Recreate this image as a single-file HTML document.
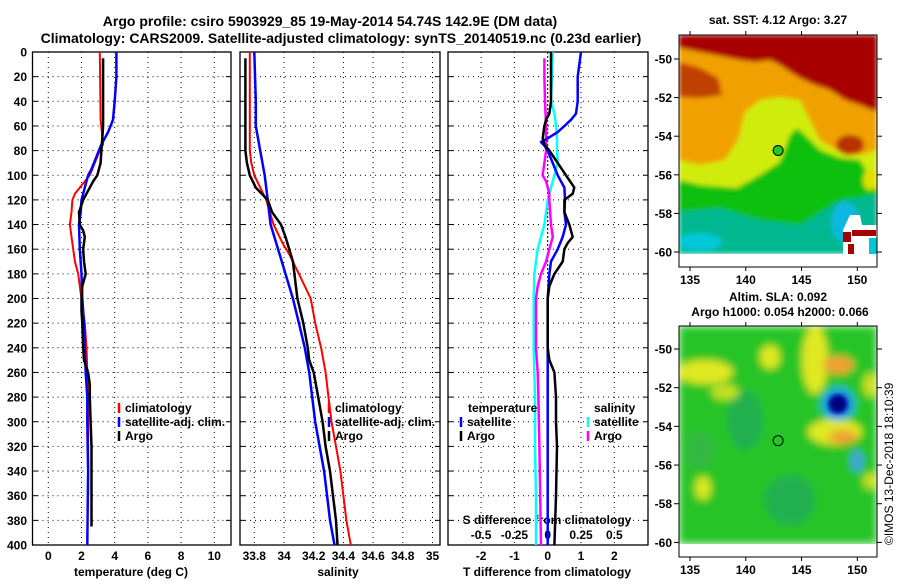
<!DOCTYPE html>
<html><head><meta charset="utf-8"><style>
body{margin:0;background:#fff}
svg text{font-family:"Liberation Sans",Arial,sans-serif;font-weight:bold;fill:#000}
</style></head><body>
<svg id="c" width="900" height="580" viewBox="0 0 900 580" xmlns="http://www.w3.org/2000/svg">
<defs>
<filter id="bl" x="-10%" y="-10%" width="120%" height="120%"><feGaussianBlur stdDeviation="2.5"/></filter>
<filter id="bl2" x="-20%" y="-20%" width="140%" height="140%"><feGaussianBlur stdDeviation="4"/></filter>
<clipPath id="cp1"><rect x="679" y="35" width="198" height="219"/></clipPath>
<clipPath id="cp2"><rect x="679" y="326" width="198" height="218"/></clipPath>
</defs>
<text x="330" y="26" font-size="14" text-anchor="middle">Argo profile: csiro 5903929_85 19-May-2014 54.74S 142.9E (DM data)</text>
<text x="341" y="43" font-size="14" text-anchor="middle">Climatology: CARS2009. Satellite-adjusted climatology: synTS_20140519.nc (0.23d earlier)</text>
<text x="778" y="24" font-size="12" text-anchor="middle">sat. SST: 4.12 Argo: 3.27</text>
<text x="778" y="301" font-size="12" text-anchor="middle">Altim. SLA: 0.092</text>
<text x="780" y="316" font-size="12" text-anchor="middle">Argo h1000: 0.054 h2000: 0.066</text>
<text transform="translate(893,545) rotate(-90)" font-size="12" style="font-weight:normal">©IMOS 13-Dec-2018 18:10:39</text>

<g clip-path="url(#cp1)">
<g filter="url(#bl)">
<rect x="679" y="35" width="198" height="219" fill="#10c010"/>
<polygon fill="#d0ec10" points="679,35 877,35 877,190 860,160 840,158 820,150 805,135 797,128 790,135 780,162 760,175 737,188 700,185 679,180"/>
<polygon fill="#f0a000" points="679,35 877,35 877,150 860,155 840,152 820,140 810,120 800,100 780,97 760,100 745,112 738,140 725,160 700,165 679,160"/>
<polygon fill="#a80000" points="679,35 877,35 877,112 860,105 845,100 830,90 815,85 800,78 790,72 780,65 770,60 755,62 740,60 730,58 715,55 700,52 690,50 679,48"/>
<polygon fill="#c04000" points="679,62 700,68 718,78 722,95 700,98 679,97"/>
<ellipse cx="850" cy="145" rx="14" ry="10" fill="#b83000"/>
<ellipse cx="870" cy="180" rx="7" ry="10" fill="#e0e000"/>
<polygon fill="#00b890" points="679,212 720,208 760,220 800,225 840,200 877,195 877,254 679,254"/>
<ellipse cx="700" cy="242" rx="22" ry="9" fill="#00c8d8"/>
<ellipse cx="845" cy="222" rx="14" ry="20" fill="#10b8e0"/>
</g>
<polygon fill="#fff" points="850,215 860,215 862,225 877,225 877,254 843,254 843,230"/>
<rect x="843" y="232" width="8" height="10" fill="#a80000"/>
<rect x="848" y="244" width="6" height="10" fill="#a80000"/>
<rect x="852" y="230" width="24" height="6" fill="#a80000"/>
<rect x="869" y="238" width="8" height="16" fill="#00c8d8"/>
</g>
<g clip-path="url(#cp2)">
<g filter="url(#bl2)">
<rect x="679" y="326" width="198" height="218" fill="#28c428"/>
<ellipse cx="745" cy="420" rx="18" ry="30" fill="#20b050"/>
<ellipse cx="790" cy="500" rx="25" ry="25" fill="#20b050"/>
<ellipse cx="700" cy="450" rx="15" ry="20" fill="#30b840"/>
<ellipse cx="705" cy="372" rx="28" ry="12" fill="#e0e820"/>
<ellipse cx="725" cy="392" rx="14" ry="8" fill="#c0e020"/>
<ellipse cx="770" cy="357" rx="10" ry="12" fill="#e0e820"/>
<ellipse cx="815" cy="360" rx="13" ry="34" fill="#e0e820"/>
<ellipse cx="838" cy="365" rx="16" ry="9" fill="#f0a030"/>
<ellipse cx="835" cy="432" rx="27" ry="13" fill="#e0e820"/>
<ellipse cx="843" cy="437" rx="14" ry="7" fill="#f0a030"/>
<ellipse cx="703" cy="488" rx="8" ry="12" fill="#d8e820"/>
<ellipse cx="870" cy="385" rx="7" ry="12" fill="#c8e020"/>
<ellipse cx="870" cy="481" rx="7" ry="8" fill="#c8e020"/>
<ellipse cx="857" cy="461" rx="6" ry="11" fill="#40a0e0"/>
<circle cx="838" cy="404" r="17" fill="#20c0e0"/>
<circle cx="838" cy="404" r="13" fill="#1060e0"/>
</g>
<circle cx="838" cy="404" r="9" fill="#000080" filter="url(#bl)"/>
</g>
<g id="plots"></g>
</svg>
<script>
// ---------- data ----------
const tDepthClim=[0,55,75,80,90,100,105,110,115,120,130,140,150,160,170,180,190,200,220,240,260,280,300,340,360];
const tClim=[3.1,3.15,3.3,3.1,2.8,2.5,2.2,1.9,1.6,1.45,1.4,1.3,1.4,1.5,1.6,1.8,1.9,2.0,2.2,2.3,2.35,2.4,2.4,2.4,2.4];
const tDepthArgo=[5,20,60,80,90,100,105,110,115,120,130,140,145,150,160,170,180,190,200,210,220,240,250,260,270,280,300,320,340,360,385];
const tArgo=[3.3,3.3,3.3,3.2,3.15,2.95,2.7,2.5,2.3,2.1,1.85,1.9,2.1,2.2,2.1,2.15,2.25,2.05,2.0,2.0,2.05,2.1,2.15,2.4,2.5,2.5,2.55,2.6,2.6,2.6,2.6];
const tDepthSat=[0,20,40,55,65,75,85,95,100,110,120,130,140,160,180,200,220,240,260,280,300,340,400];
const tSat=[4.1,4.1,4.0,3.9,3.6,3.2,2.9,2.6,2.4,2.2,2.0,1.95,1.85,1.9,2.0,2.05,2.15,2.2,2.25,2.35,2.35,2.4,2.35];
const sDepthClim=[0,80,90,100,110,120,140,155,165,180,200,220,240,260,280,300,320,340,360,380,400];
const sClim=[33.77,33.77,33.78,33.8,33.84,33.88,33.93,33.99,34.04,34.1,34.18,34.21,34.25,34.28,34.3,34.32,34.35,34.38,34.4,34.42,34.45];
const sDepthArgo=[5,80,90,100,110,115,120,130,140,150,170,180,200,220,240,250,260,280,300,320,340,360,380,400];
const sArgo=[33.74,33.74,33.75,33.77,33.81,33.85,33.89,33.92,33.98,34.01,34.06,34.07,34.09,34.13,34.16,34.17,34.2,34.23,34.26,34.28,34.31,34.33,34.35,34.36];
const sDepthSat=[0,40,60,80,100,110,120,140,160,180,200,220,240,260,280,300,320,340,360,380,400];
const sSat=[33.8,33.81,33.81,33.84,33.87,33.88,33.89,33.91,33.96,34.01,34.06,34.1,34.14,34.17,34.19,34.21,34.24,34.27,34.29,34.31,34.34];
const dtDepthSat=[0,20,40,50,55,60,65,70,73,76,80,90,100,110,120,130,140,150,160,170,180,200,220,260,400];
const dtSat=[1.0,0.9,0.9,0.85,0.7,0.5,0.3,0.0,-0.2,-0.1,0.0,0.15,0.3,0.5,0.52,0.5,0.55,0.45,0.3,0.1,0.05,0,0,0,0];
const dtDepthArgo=[0,20,40,50,55,60,70,75,80,90,100,110,115,120,130,140,150,155,160,170,180,190,200,220,240,250,260,280,300,320,360,400];
const dtArgo=[0.1,0.1,0.1,0.05,-0.05,-0.1,-0.15,-0.1,0.05,0.3,0.55,0.8,0.75,0.5,0.5,0.65,0.75,0.6,0.5,0.45,0.2,0.05,0,0,0,0.05,0.2,0.25,0.25,0.28,0.25,0.2];
const dsDepthSat=[0,40,50,60,70,80,90,100,110,120,130,140,150,160,180,200,240,280,320,360,400];
const dsSat=[0.038,0.025,0.05,0.062,0.07,0.07,0.075,0.05,0.025,0,-0.012,-0.025,-0.05,-0.075,-0.1,-0.105,-0.105,-0.095,-0.095,-0.088,-0.088];
const dsDepthArgo=[5,20,40,60,80,90,100,105,110,115,120,140,150,160,170,180,190,200,240,260,280,320,400];
const dsArgo=[-0.025,-0.025,-0.02,-0.012,-0.012,-0.025,-0.038,-0.012,0,0.012,0.012,0.025,0.038,0.012,-0.012,-0.05,-0.075,-0.088,-0.088,-0.075,-0.07,-0.062,-0.05];
const depthTicks=[0,20,40,60,80,100,120,140,160,180,200,220,240,260,280,300,320,340,360,380,400];
const tempTicks=[0,2,4,6,8,10];
const salTicks=[33.8,34,34.2,34.4,34.6,34.8,35];
const salTickLabels=["33.8","34","34.2","34.4","34.6","34.8","35"];
const dtTicks=[-2,-1,0,1,2];
const dsTicks=[-0.5,-0.25,0,0.25,0.5];
const latTicks=[-50,-52,-54,-56,-58,-60];
const lonTicks=[135,140,145,150];
const argoLon=142.9, argoLat=-54.74;
// ---------- scales ----------
const yD=d=>52+d*493/400;
const xT=t=>48.3+t*16.6;
const xS=s=>284+(s-34)*148.5;
const xDT=t=>547.7+t*33.3;
const xDS=s=>547.7+s*4*33.3;
const xLon=l=>690+(l-135)*11.153;
const yLat1=l=>59+(-50-l)*19.3;
const yLat2=l=>349+(-50-l)*19.34;
const NS='http://www.w3.org/2000/svg';
const G=document.getElementById('plots');
function mk(tag,at,parent){const e=document.createElementNS(NS,tag);for(const k in at)e.setAttribute(k,at[k]);(parent||G).appendChild(e);return e;}
function txt(x,y,s,size,anchor,parent){const e=mk('text',{x:x,y:y,'font-size':size,'text-anchor':anchor},parent);e.textContent=s;return e;}
function series(xs,ds,xf,col,w,name){
  const pts=xs.map((v,i)=>xf(v).toFixed(1)+','+yD(ds[i]).toFixed(1)).join(' ');
  const e=mk('polyline',{points:pts,fill:'none',stroke:col,'stroke-width':w,'stroke-linejoin':'round'});
  
  
}
function panel(x0,x1,name){
  const g=mk('g',{});
  
  
  depthTicks.forEach(d=>{ if(d>0&&d<400) mk('line',{x1:x0,x2:x1,y1:yD(d),y2:yD(d),stroke:'#000','stroke-width':1,'stroke-dasharray':'1,4'},g);
    mk('line',{x1:x0,x2:x0+5,y1:yD(d),y2:yD(d),stroke:'#000'},g);mk('line',{x1:x1-5,x2:x1,y1:yD(d),y2:yD(d),stroke:'#000'},g);});
  return g;
}
function frame(x0,x1,g){mk('rect',{x:x0,y:52,width:x1-x0,height:493,fill:'none',stroke:'#000','stroke-width':1.3},g);}
const g1=panel(32.5,231,'temperature-panel');
tempTicks.forEach(t=>{mk('line',{x1:xT(t),x2:xT(t),y1:52,y2:545,stroke:'#000','stroke-dasharray':'1,4'},g1);txt(xT(t),560,String(t),12,'middle',g1);});
depthTicks.forEach(d=>txt(27,yD(d)+4.5,String(d),12,'end',g1));
txt(131,576,'temperature (deg C)',12,'middle',g1);
const g2=panel(240,440,'salinity-panel');
salTicks.forEach((s,i)=>{mk('line',{x1:xS(s),x2:xS(s),y1:52,y2:545,stroke:'#000','stroke-dasharray':'1,4'},g2);txt(xS(s),560,salTickLabels[i],12,'middle',g2);});
txt(338,576,'salinity',12,'middle',g2);
const g3=panel(448,648,'difference-panel');
dtTicks.forEach(t=>{mk('line',{x1:xDT(t),x2:xDT(t),y1:52,y2:545,stroke:'#000','stroke-dasharray':t===0?'2,2':'1,4'},g3);txt(xDT(t),560,String(t),12,'middle',g3);});
dsTicks.forEach(s=>txt(xDS(s),539,String(s),12,'middle',g3));
txt(547,524,'S difference from climatology',12,'middle',g3);
txt(547,576,'T difference from climatology',12,'middle',g3);
series(tClim,tDepthClim,xT,'#f00',2,'temp-climatology-line');
series(tSat,tDepthSat,xT,'#00f',2.5,'temp-satellite-line');
series(tArgo,tDepthArgo,xT,'#000',2.5,'temp-argo-line');
series(sClim,sDepthClim,xS,'#f00',2,'sal-climatology-line');
series(sSat,sDepthSat,xS,'#00f',2.5,'sal-satellite-line');
series(sArgo,sDepthArgo,xS,'#000',2.5,'sal-argo-line');
series(dsSat,dsDepthSat,xDS,'#0ff',2.5,'s-diff-satellite-line');
series(dsArgo,dsDepthArgo,xDS,'#f0f',2.5,'s-diff-argo-line');
series(dtSat,dtDepthSat,xDT,'#00f',2.5,'t-diff-satellite-line');
series(dtArgo,dtDepthArgo,xDT,'#000',2.5,'t-diff-argo-line');
frame(32.5,231,g1);frame(240,440,g2);frame(448,648,g3);
function leg(x,y,col,label,name){const g=mk('g',{});
  if(col) mk('line',{x1:x,x2:x,y1:y-9,y2:y+1,stroke:col,'stroke-width':2.5},g); txt(x+6,y,label,12,'start',g);}
leg(119,412,'#f00','climatology','legend-climatology');
leg(119,426,'#00f','satellite-adj. clim.','legend-satellite-adj');
leg(119,440,'#000','Argo','legend-argo');
leg(329,412,'#f00','climatology','legend-sal-climatology');
leg(329,426,'#00f','satellite-adj. clim.','legend-sal-satellite-adj');
leg(329,440,'#000','Argo','legend-sal-argo');
leg(462,412,null,'temperature','legend-temperature-heading');
leg(461,426,'#00f','satellite','legend-t-satellite');
leg(461,440,'#000','Argo','legend-t-argo');
leg(588,412,null,'salinity','legend-salinity-heading');
leg(588,426,'#0ff','satellite','legend-s-satellite');
leg(588,440,'#f0f','Argo','legend-s-argo');
function mapAxes(top,bot,yLat,name){
  const g=mk('g',{});
  mk('rect',{x:679,y:top,width:198,height:bot-top,fill:'none',stroke:'#000','stroke-width':1},g);
  latTicks.forEach(l=>{const y=yLat(l);mk('line',{x1:674,x2:679,y1:y,y2:y,stroke:'#000'},g);mk('line',{x1:877,x2:882,y1:y,y2:y,stroke:'#000'},g);txt(672,y+4.5,String(l),12,'end',g);});
  lonTicks.forEach(l=>{const x=xLon(l);mk('line',{x1:x,x2:x,y1:bot,y2:bot+4,stroke:'#000'},g);mk('line',{x1:x,x2:x,y1:top-4,y2:top,stroke:'#000'},g);txt(x,bot+17,String(l),12,'middle',g);});
}
mapAxes(35,267,yLat1,'sst-map-axes');
mapAxes(326,557,yLat2,'sla-map-axes');
const d1=mk('circle',{cx:xLon(argoLon),cy:yLat1(argoLat),r:5,stroke:'#000','stroke-width':1,style:'fill:#20c820'});


const d2=mk('circle',{cx:xLon(argoLon),cy:yLat2(argoLat),r:5,stroke:'#000','stroke-width':1,style:'fill:#20c820'});


</script>
</body></html>
